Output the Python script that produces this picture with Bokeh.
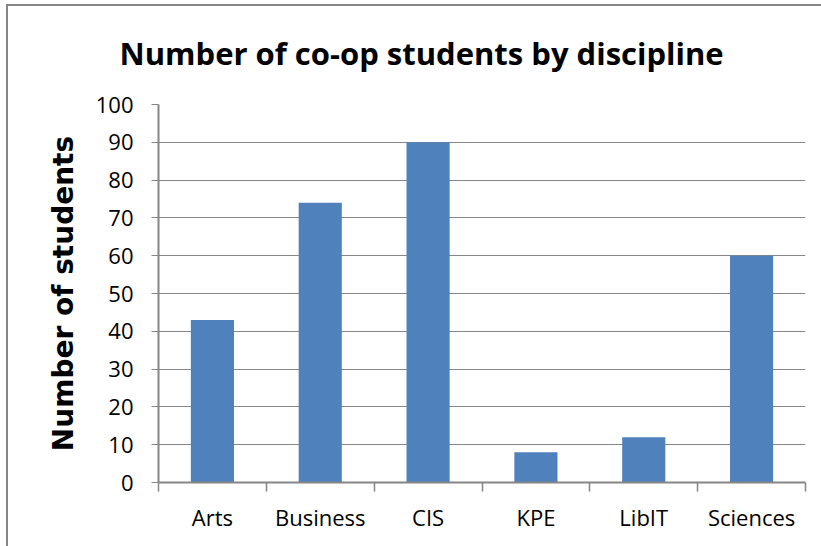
from bokeh.plotting import figure
from bokeh.models import Range1d, FixedTicker
from bokeh.embed import file_html
from bokeh.resources import INLINE

categories = ["Arts", "Business", "CIS", "KPE", "LibIT", "Sciences"]
students = [43, 74, 90, 8, 12, 60]
y_ticks = [0, 10, 20, 30, 40, 50, 60, 70, 80, 90, 100]
title_text = "Number of co-op students by discipline"
y_label = "Number of students"

BAR = "#4F81BD"
GRAY = "#868686"

n = len(categories)
centers = [i + 0.5 for i in range(n)]
bounds = list(range(n + 1))

p = figure(width=821, height=546, output_backend="svg", toolbar_location=None,
           x_range=Range1d(0, n), y_range=Range1d(0, 100),
           min_border_left=158, min_border_right=16, min_border_top=104,
           min_border_bottom=64, outline_line_color=None,
           border_fill_color=None, background_fill_color="#ffffff")
p.styles = {"box-shadow": "inset 6px 4px 0 0 #ffffff, inset 8px 6px 0 0 #868686"}

p.vbar(x=centers, top=students, width=0.4, fill_color=BAR, line_color=None)

# title
p.title.text = title_text
p.title.align = "left"
p.title.offset = -39
p.title.vertical_align = "middle"
p.title.standoff = 60
p.title.text_font = "Open Sans"
p.title.text_font_style = "bold"
p.title.text_font_size = "31px"
p.title.text_color = "#000000"

# x axis
xa = p.xaxis[0]
xa.ticker = FixedTicker(ticks=centers, minor_ticks=bounds)
xa.major_label_overrides = {c: lab for c, lab in zip(centers, categories)}
xa.major_tick_line_color = None
xa.major_tick_out = 0
xa.major_tick_in = 0
xa.minor_tick_line_color = GRAY
xa.minor_tick_line_width = 1.5
xa.minor_tick_out = 9
xa.minor_tick_in = 0
xa.axis_line_color = GRAY
xa.axis_line_width = 2
xa.major_label_text_font = "Open Sans"
xa.major_label_text_font_size = "22px"
xa.major_label_text_color = "#000000"
xa.major_label_standoff = 10

# y axis
ya = p.yaxis[0]
ya.ticker = FixedTicker(ticks=y_ticks, minor_ticks=[])
ya.major_tick_line_color = GRAY
ya.major_tick_out = 7
ya.major_tick_in = 0
ya.minor_tick_line_color = None
ya.axis_line_color = GRAY
ya.axis_line_width = 2
ya.major_label_text_font = "Open Sans"
ya.major_label_text_font_size = "22px"
ya.major_label_text_color = "#000000"
ya.major_label_standoff = 18
ya.axis_label = y_label
ya.axis_label_text_font = "DejaVu Sans"
ya.axis_label_text_font_style = "bold"
ya.axis_label_text_font_size = "28px"
ya.axis_label_text_color = "#000000"
ya.axis_label_standoff = 13

p.xgrid.grid_line_color = None
p.ygrid.grid_line_color = GRAY
p.ygrid.grid_line_width = 1
p.ygrid.ticker = FixedTicker(ticks=y_ticks)

open("out.html", "w").write(file_html(p, INLINE))
